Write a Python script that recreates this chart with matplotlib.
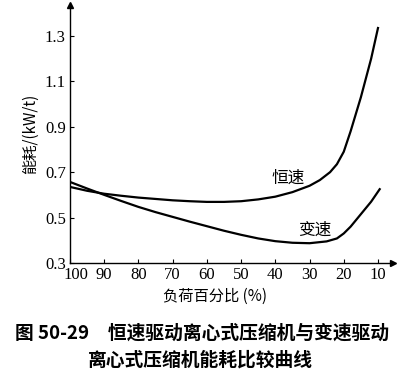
import matplotlib
matplotlib.use("Agg")
import matplotlib.pyplot as plt
import matplotlib.transforms as mtransforms

load_const = [100, 95, 90, 85, 80, 75, 70, 65, 60, 55, 50, 45, 40, 35, 30, 27, 24, 22, 20, 18, 15, 12, 10]
val_const = [0.635, 0.618, 0.605, 0.596, 0.588, 0.582, 0.576, 0.572, 0.569, 0.569, 0.572, 0.58, 0.592, 0.612,
             0.64, 0.665, 0.70, 0.735, 0.79, 0.88, 1.03, 1.20, 1.335]
load_var = [100, 95, 90, 85, 80, 75, 70, 65, 60, 55, 50, 45, 40, 35, 30, 25, 22, 20, 18, 15, 12, 9.5]
val_var = [0.657, 0.628, 0.600, 0.573, 0.547, 0.524, 0.503, 0.482, 0.462, 0.442, 0.424, 0.408, 0.396, 0.389,
           0.387, 0.395, 0.408, 0.43, 0.46, 0.515, 0.57, 0.625]
xticks = [100, 90, 80, 70, 60, 50, 40, 30, 20, 10]
yticks = [0.3, 0.5, 0.7, 0.9, 1.1, 1.3]

cjk = ['Noto Sans CJK SC', 'DejaVu Sans']
serif = 'Liberation Serif'

fig = plt.figure(figsize=(4.09, 3.73), dpi=100)
ax = fig.add_axes([0.171, 0.295, 0.79, 0.692])
ax.plot(load_const, val_const, color='black', lw=1.6)
ax.plot(load_var, val_var, color='black', lw=1.6)
ax.set_xlim(100, 5.6)
ax.set_ylim(0.3, 1.437)
for s in ['top', 'right']:
    ax.spines[s].set_visible(False)
for s in ['left', 'bottom']:
    ax.spines[s].set_linewidth(1.0)
ax.plot(1, 0, ">k", ms=4, transform=ax.transAxes, clip_on=False)
ax.plot(0, 1, "^k", ms=4, transform=ax.transAxes, clip_on=False)
ax.set_xticks(xticks)
ax.set_xticklabels([str(v) for v in xticks], fontfamily=serif, fontsize=12)
ax.set_yticks(yticks)
ax.set_yticklabels([f"{v:.1f}" for v in yticks], fontfamily=serif, fontsize=12)
ax.tick_params(direction='in', length=3, width=0.8, pad=3)
first = ax.get_xticklabels()[0]
first.set_transform(first.get_transform() + mtransforms.ScaledTranslation(6/100, 0, fig.dpi_scale_trans))
ax.set_xlabel("负荷百分比 (%)", family=cjk, fontsize=11)
ax.xaxis.set_label_coords(0.449, -0.095)
ax.set_ylabel("能耗/(kW/t)", family=cjk, fontsize=11, labelpad=4)
ax.text(36.3, 0.674, "恒速", family=cjk, fontsize=12, ha='center', va='center')
ax.text(28.4, 0.445, "变速", family=cjk, fontsize=12, ha='center', va='center')

fig.text(0.495, 1 - 333/373, "图 50-29　恒速驱动离心式压缩机与变速驱动", family=cjk, fontsize=13.5,
         fontweight='bold', ha='center', va='center')
fig.text(0.49, 1 - 360/373, "离心式压缩机能耗比较曲线", family=cjk, fontsize=13.5,
         fontweight='bold', ha='center', va='center')
fig.savefig("out.png", dpi=100)
